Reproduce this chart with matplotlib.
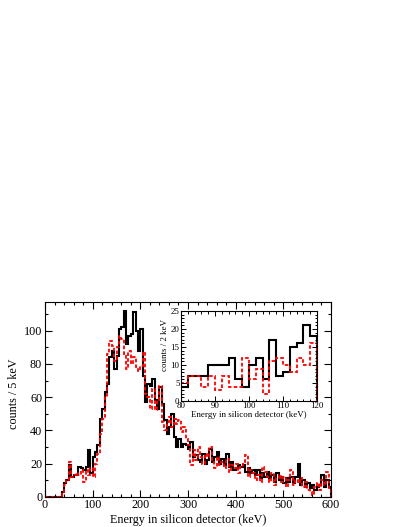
import numpy as np
import matplotlib
matplotlib.use("Agg")
import matplotlib.pyplot as plt
from matplotlib.ticker import MultipleLocator

plt.rcParams['font.family'] = ['Liberation Serif', 'DejaVu Serif']

# main spectrum, 5 keV bins from 0 to 600 keV
bin_width = 5
black_counts = [
    0, 0, 0, 0, 0, 0, 0, 3, 8, 10,
    19, 12, 13, 13, 18, 17, 16, 18, 28, 14,
    24, 27, 31, 47, 53, 63, 68, 84, 88, 77,
    85, 101, 102, 112, 92, 97, 98, 111, 100, 88,
    101, 73, 57, 68, 67, 71, 58, 53, 66, 56,
    46, 38, 42, 50, 36, 30, 35, 30, 32, 31,
    29, 33, 24, 25, 22, 21, 26, 20, 22, 29,
    21, 24, 27, 20, 23, 19, 26, 18, 21, 16,
    17, 19, 18, 19, 15, 17, 14, 16, 13, 16,
    11, 14, 12, 15, 11, 13, 9, 14, 10, 12,
    8, 11, 9, 12, 8, 12, 20, 7, 10, 6,
    8, 5, 7, 4, 6, 7, 13, 6, 10, 6,
]
red_counts = [
    0, 0, 0, 0, 0, 0, 0, 2, 7, 10,
    21, 12, 13, 14, 13, 16, 9, 16, 13, 17,
    12, 20, 26, 38, 47, 60, 86, 94, 91, 82,
    90, 97, 95, 86, 77, 88, 80, 84, 78, 76,
    79, 87, 62, 60, 53, 65, 52, 58, 67, 45,
    40, 45, 48, 42, 47, 44, 46, 39, 42, 35,
    31, 19, 28, 22, 30, 24, 20, 26, 24, 30,
    22, 17, 24, 19, 21, 17, 23, 15, 19, 17,
    20, 14, 18, 21, 25, 12, 16, 14, 10, 13,
    9, 18, 15, 12, 9, 14, 7, 11, 13, 9,
    12, 6, 10, 16, 7, 10, 8, 11, 6, 9,
    4, 3, 1, 6, 8, 4, 10, 7, 15, 5,
]

# inset spectrum, 2 keV bins from 80 to 120 keV
inset_start = 80
inset_width = 2
inset_black = [4, 7, 7, 7, 10, 10, 10, 12, 6, 4,
               10, 12, 6, 17, 7, 8, 15, 16, 21, 18]
inset_red = [5, 7, 7, 4, 7, 3, 7, 4, 4, 12,
             6, 9, 2, 11, 12, 10, 8, 12, 10, 16]

dash = (0, (2.0, 1.2))

fig = plt.figure(figsize=(4.07, 5.27), dpi=100)
ax = fig.add_axes([0.1106, 0.0575, 0.7027, 0.370])

edges = np.arange(len(black_counts) + 1) * bin_width
ax.stairs(black_counts, edges, color='black', lw=1.5)
ax.stairs(red_counts, edges, color='red', lw=1.3, linestyle=dash)

ax.set_xlim(0, 600)
ax.set_ylim(0, 117.5)
ax.xaxis.set_major_locator(MultipleLocator(100))
ax.xaxis.set_minor_locator(MultipleLocator(20))
ax.yaxis.set_major_locator(MultipleLocator(20))
ax.yaxis.set_minor_locator(MultipleLocator(10))
ax.tick_params(which='both', direction='in', top=True, right=True,
               labelsize=8.7, width=0.8, pad=2)
ax.tick_params(which='major', length=5)
ax.tick_params(which='minor', length=2.5)
for s in ax.spines.values():
    s.set_linewidth(0.8)
ax.set_xlabel('Energy in silicon detector (keV)', fontsize=8.7, labelpad=1.5)
ax.set_ylabel('counts / 5 keV', fontsize=8.7)
ax.yaxis.set_label_coords(-0.087, 0.53)

ins = fig.add_axes([0.4447, 0.239, 0.3342, 0.171])
iedges = inset_start + np.arange(len(inset_black) + 1) * inset_width
ins.stairs(inset_black, iedges, color='black', lw=1.5)
ins.stairs(inset_red, iedges, color='red', lw=1.3, linestyle=dash)
ins.set_xlim(80, 120)
ins.set_ylim(0, 25)
ins.xaxis.set_major_locator(MultipleLocator(10))
ins.xaxis.set_minor_locator(MultipleLocator(2))
ins.yaxis.set_major_locator(MultipleLocator(5))
ins.yaxis.set_minor_locator(MultipleLocator(1))
ins.tick_params(which='both', direction='in', top=True, right=True,
                labelsize=6.4, width=0.7, pad=1)
ins.tick_params(which='major', length=3.5)
ins.tick_params(which='minor', length=1.8)
for s in ins.spines.values():
    s.set_linewidth(0.8)
ins.set_xlabel('Energy in silicon detector (keV)', fontsize=6.4, labelpad=0.5)
ins.set_ylabel('counts / 2 keV', fontsize=6.4)
ins.yaxis.set_label_coords(-0.085, 0.62)

fig.savefig('out.png', dpi=100)
